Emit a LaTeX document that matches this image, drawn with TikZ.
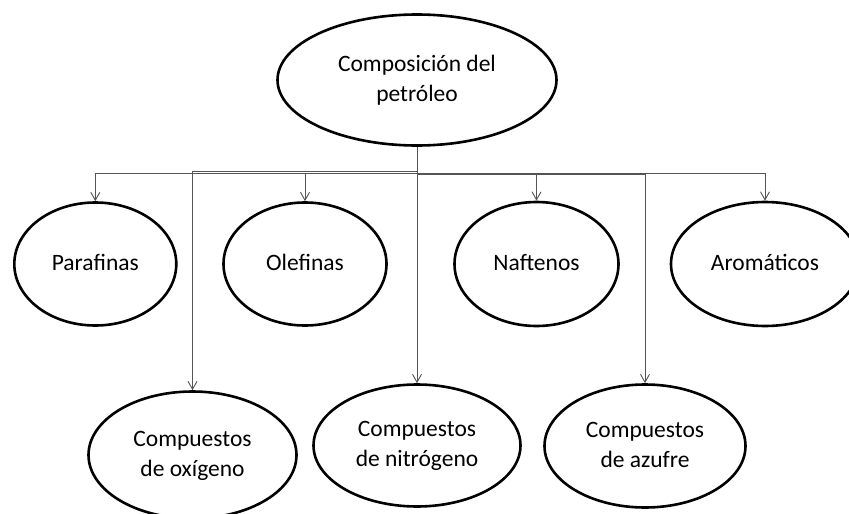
\documentclass[tikz,border=0pt]{standalone}
\usepackage{fontspec}
\setmainfont{Carlito}
\usetikzlibrary{shapes.geometric,arrows.meta}
\definecolor{conncol}{RGB}{85,85,85}
\begin{document}
\begin{tikzpicture}[x=1pt,y=-1pt,
  bubble/.style={ellipse,draw=black,line width=2.6pt,inner sep=0pt,align=center,
    font=\fontsize{23.5pt}{30pt}\selectfont},
  arr/.style={draw=conncol,line width=0.9pt,-{Straight Barb[length=8pt,width=9pt]}}]
\useasboundingbox (0,0) rectangle (849,514);
\fill[white] (0,0) rectangle (849,514);
\node[bubble,minimum width=279pt,minimum height=131pt] (top) at (417,80) {\strut Composición del\\petróleo\strut};
\node[bubble,minimum width=162pt,minimum height=123pt] (paraf) at (95.3,264) {\strut Parafinas};
\node[bubble,minimum width=163pt,minimum height=123pt] (olef) at (305,264) {\strut Olefinas};
\node[bubble,minimum width=164pt,minimum height=124pt] (naft) at (536.5,264) {\strut Naftenos};
\node[bubble,minimum width=188pt,minimum height=124pt] (arom) at (765,264) {\strut Aromáticos};
\node[bubble,minimum width=208pt,minimum height=127pt] (oxy) at (192.5,455) {\strut Compuestos\\de oxígeno\strut};
\node[bubble,minimum width=207pt,minimum height=122pt] (nitro) at (417,445.5) {\strut Compuestos\\de nitrógeno\strut};
\node[bubble,minimum width=201pt,minimum height=123pt] (azuf) at (645,446) {\strut Compuestos\\de azufre\strut};
\coordinate (bus) at (417,173);
\draw[arr] (bus) -| (paraf.north);
\draw[arr] (bus) -| (olef.north);
\draw[arr] (bus) -| (naft.north);
\draw[arr] (bus) -| (arom.north);
\draw[arr] ([yshift=1.5pt]bus) -| (oxy.north);
\draw[arr] ([yshift=-1pt]bus) -| (azuf.north);
\draw[arr] (top.south) -- (nitro.north);
\end{tikzpicture}
\end{document}
